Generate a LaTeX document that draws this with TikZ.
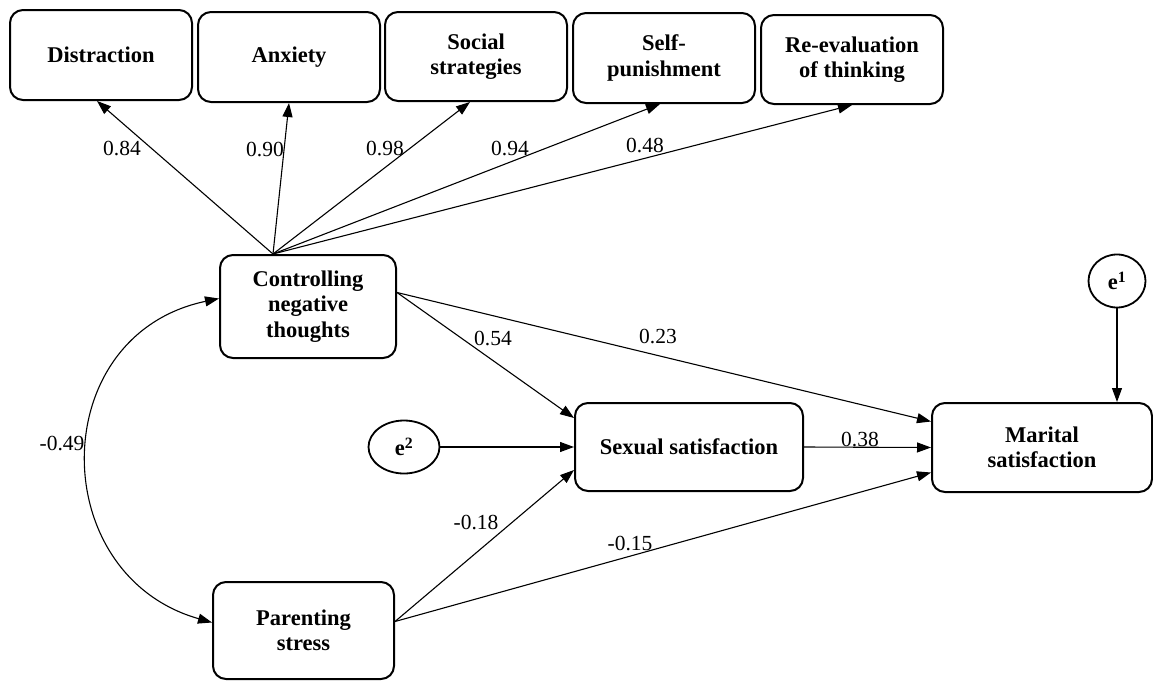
\documentclass[tikz,border=0pt]{standalone}
\usepackage{fontspec}
\setmainfont{Liberation Serif}
\usetikzlibrary{arrows.meta,shapes.geometric,calc}
\begin{document}
\begin{tikzpicture}[x=1pt,y=-1pt,
  box/.style={draw, line width=2pt, rounded corners=13pt, align=center, inner sep=0pt,
    font=\bfseries\fontsize{22.5}{25.5}\selectfont},
  err/.style={draw, ellipse, line width=1.8pt, inner sep=0pt,
    font=\bfseries\fontsize{22.5}{25.5}\selectfont},
  lbl/.style={inner sep=0pt, font=\fontsize{21.5}{25}\selectfont},
  arr/.style={line width=1.1pt, -{Triangle[length=14pt,width=10pt]}},
  darr/.style={line width=1.1pt, {Triangle[length=14pt,width=10pt]}-{Triangle[length=14pt,width=10pt]}}
]
\useasboundingbox (0,0) rectangle (1153,680);
\fill[white] (0,0) rectangle (1153,680);

% top boxes
\node[box, minimum width=182pt, minimum height=90pt] (dis) at (101,55) {Distraction};
\node[box, minimum width=182pt, minimum height=90pt] (anx) at (289,57) {Anxiety};
\node[box, minimum width=182pt, minimum height=89pt] (soc) at (476,56.5) {Social\\strategies};
\node[box, minimum width=182pt, minimum height=90pt] (slf) at (664,58) {Self-\\punishment};
\node[box, minimum width=182pt, minimum height=89pt] (rev) at (852,59.5) {Re-evaluation\\of thinking};

% main boxes
\node[box, minimum width=176pt, minimum height=103pt] (cnt) at (308,306.5) {Controlling\\negative\\thoughts};
\node[box, minimum width=228pt, minimum height=88pt] (sex) at (689,447) {Sexual satisfaction};
\node[box, minimum width=220pt, minimum height=89pt] (mar) at (1042,447.5) {Marital\\satisfaction};
\node[box, minimum width=181pt, minimum height=97pt] (par) at (303.5,630.5) {Parenting\\stress};

% error terms
\node[err, minimum width=57pt, minimum height=53pt] (e1) at (1117,281) {e\textsuperscript{1}};
\node[err, minimum width=71pt, minimum height=53pt] (e2) at (404,447) {e\textsuperscript{2}};

% origin of loadings
\coordinate (o) at (273,254);
\draw[arr] (o) -- ([xshift=-4pt]dis.south);
\draw[arr] (o) -- (anx.south);
\draw[arr] (o) -- ([xshift=-6pt]soc.south);
\draw[arr] (o) -- ([xshift=-4pt]slf.south);
\draw[arr] (o) -- (rev.south);

% structural paths
\draw[arr] ([yshift=14pt]cnt.east) -- ([yshift=29pt]sex.west);
\draw[arr] ([yshift=14pt]cnt.east) -- ([yshift=26pt]mar.west);
\draw[arr] (e2.east) -- (sex.west);
\draw[arr] (sex.east) -- (mar.west);
\draw[arr] ([yshift=9pt]par.east) -- ([yshift=-23pt]sex.west);
\draw[arr] ([yshift=9pt]par.east) -- ([yshift=-25pt]mar.west);
\draw[arr] (e1.south) -- (e1.south |- mar.north);

% covariance
\draw[darr] ([yshift=8pt]cnt.west) .. controls (45,335) and (45,575) .. ([yshift=8pt]par.west);

% labels
\node[lbl] (l1) at (122,149) {0.84};
\node[lbl] (l2) at (265,150) {0.90};
\node[lbl] (l3) at (385,149) {0.98};
\node[lbl] (l4) at (510,149) {0.94};
\node[lbl] (l5) at (645,146) {0.48};
\node[lbl] (l6) at (493,338) {0.54};
\node[lbl] (l7) at (658,336) {0.23};
\node[lbl] (l8) at (860,439) {0.38};
\node[lbl] (l9) at (476,522) {-0.18};
\node[lbl] (l10) at (630,543) {-0.15};
\node[lbl] (l11) at (62,443) {-0.49};
\end{tikzpicture}
\end{document}
